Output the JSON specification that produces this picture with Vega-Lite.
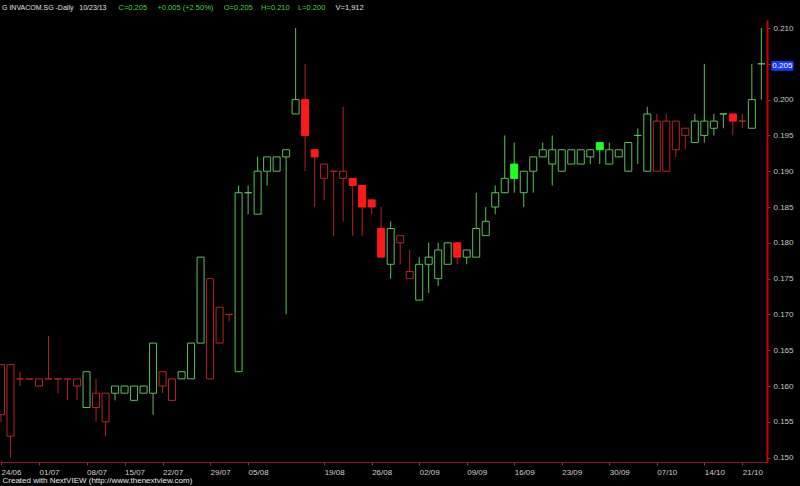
{
  "$schema": "https://vega.github.io/schema/vega-lite/v6.json",
  "width": 767,
  "height": 442,
  "autosize": {"type": "none"},
  "padding": {"left": 0, "top": 20, "right": 33, "bottom": 24},
  "background": "#000000",
  "config": {"view": {"stroke": null}, "font": "Liberation Sans"},
  "title": {"text": "G INVACOM.SG -Daily\u00a0\u00a0\u00a010/23/13", "anchor": "start", "frame": "group", "orient": "top", "offset": -8, "dx": 2, "fontSize": 7, "fontWeight": "normal", "color": "#e0e0e0"},
  "data": {"values": [
    {"date": "24/06", "o": 0.156, "h": 0.163, "l": 0.155, "c": 0.163, "dir": "dn"},
    {"date": "25/06", "o": 0.153, "h": 0.163, "l": 0.150, "c": 0.163, "dir": "dn"},
    {"date": "26/06", "o": 0.161, "h": 0.162, "l": 0.160, "c": 0.161, "dir": "dn"},
    {"date": "27/06", "o": 0.161, "h": 0.161, "l": 0.161, "c": 0.161, "dir": "dn"},
    {"date": "01/07", "o": 0.160, "h": 0.161, "l": 0.160, "c": 0.161, "dir": "dn"},
    {"date": "02/07", "o": 0.161, "h": 0.167, "l": 0.161, "c": 0.161, "dir": "dn"},
    {"date": "03/07", "o": 0.161, "h": 0.161, "l": 0.159, "c": 0.161, "dir": "dn"},
    {"date": "04/07", "o": 0.161, "h": 0.161, "l": 0.158, "c": 0.161, "dir": "dn"},
    {"date": "05/07", "o": 0.160, "h": 0.161, "l": 0.158, "c": 0.161, "dir": "dn"},
    {"date": "08/07", "o": 0.157, "h": 0.162, "l": 0.157, "c": 0.162, "dir": "up"},
    {"date": "09/07", "o": 0.157, "h": 0.161, "l": 0.155, "c": 0.159, "dir": "dn"},
    {"date": "10/07", "o": 0.155, "h": 0.159, "l": 0.153, "c": 0.159, "dir": "dn"},
    {"date": "11/07", "o": 0.159, "h": 0.160, "l": 0.158, "c": 0.160, "dir": "up"},
    {"date": "15/07", "o": 0.159, "h": 0.160, "l": 0.159, "c": 0.160, "dir": "up"},
    {"date": "16/07", "o": 0.158, "h": 0.160, "l": 0.158, "c": 0.160, "dir": "up"},
    {"date": "17/07", "o": 0.159, "h": 0.160, "l": 0.159, "c": 0.160, "dir": "up"},
    {"date": "18/07", "o": 0.159, "h": 0.166, "l": 0.156, "c": 0.166, "dir": "up"},
    {"date": "22/07", "o": 0.160, "h": 0.162, "l": 0.159, "c": 0.162, "dir": "dn"},
    {"date": "23/07", "o": 0.158, "h": 0.161, "l": 0.158, "c": 0.161, "dir": "dn"},
    {"date": "24/07", "o": 0.161, "h": 0.162, "l": 0.161, "c": 0.162, "dir": "up"},
    {"date": "25/07", "o": 0.161, "h": 0.166, "l": 0.161, "c": 0.166, "dir": "up"},
    {"date": "26/07", "o": 0.166, "h": 0.178, "l": 0.166, "c": 0.178, "dir": "up"},
    {"date": "29/07", "o": 0.161, "h": 0.175, "l": 0.161, "c": 0.175, "dir": "dn"},
    {"date": "30/07", "o": 0.166, "h": 0.171, "l": 0.166, "c": 0.171, "dir": "dn"},
    {"date": "31/07", "o": 0.170, "h": 0.170, "l": 0.169, "c": 0.170, "dir": "dn"},
    {"date": "01/08", "o": 0.162, "h": 0.188, "l": 0.162, "c": 0.187, "dir": "up"},
    {"date": "05/08", "o": 0.187, "h": 0.188, "l": 0.184, "c": 0.187, "dir": "up"},
    {"date": "06/08", "o": 0.184, "h": 0.192, "l": 0.184, "c": 0.190, "dir": "up"},
    {"date": "07/08", "o": 0.190, "h": 0.192, "l": 0.188, "c": 0.192, "dir": "up"},
    {"date": "12/08", "o": 0.190, "h": 0.192, "l": 0.190, "c": 0.192, "dir": "up"},
    {"date": "13/08", "o": 0.192, "h": 0.193, "l": 0.170, "c": 0.193, "dir": "up"},
    {"date": "14/08", "o": 0.198, "h": 0.210, "l": 0.198, "c": 0.200, "dir": "up"},
    {"date": "15/08", "o": 0.200, "h": 0.205, "l": 0.190, "c": 0.195, "dir": "dn"},
    {"date": "16/08", "o": 0.193, "h": 0.193, "l": 0.185, "c": 0.192, "dir": "dn"},
    {"date": "19/08", "o": 0.189, "h": 0.191, "l": 0.186, "c": 0.191, "dir": "dn"},
    {"date": "20/08", "o": 0.190, "h": 0.190, "l": 0.181, "c": 0.190, "dir": "dn"},
    {"date": "21/08", "o": 0.189, "h": 0.199, "l": 0.183, "c": 0.190, "dir": "dn"},
    {"date": "22/08", "o": 0.189, "h": 0.189, "l": 0.181, "c": 0.188, "dir": "dn"},
    {"date": "23/08", "o": 0.188, "h": 0.188, "l": 0.181, "c": 0.185, "dir": "dn"},
    {"date": "26/08", "o": 0.186, "h": 0.186, "l": 0.184, "c": 0.185, "dir": "dn"},
    {"date": "27/08", "o": 0.182, "h": 0.185, "l": 0.178, "c": 0.178, "dir": "dn"},
    {"date": "28/08", "o": 0.177, "h": 0.183, "l": 0.175, "c": 0.182, "dir": "up"},
    {"date": "29/08", "o": 0.180, "h": 0.181, "l": 0.177, "c": 0.181, "dir": "dn"},
    {"date": "30/08", "o": 0.175, "h": 0.179, "l": 0.175, "c": 0.176, "dir": "dn"},
    {"date": "02/09", "o": 0.172, "h": 0.178, "l": 0.172, "c": 0.177, "dir": "up"},
    {"date": "03/09", "o": 0.177, "h": 0.180, "l": 0.173, "c": 0.178, "dir": "up"},
    {"date": "04/09", "o": 0.175, "h": 0.180, "l": 0.174, "c": 0.179, "dir": "up"},
    {"date": "05/09", "o": 0.177, "h": 0.180, "l": 0.177, "c": 0.180, "dir": "up"},
    {"date": "06/09", "o": 0.180, "h": 0.180, "l": 0.177, "c": 0.178, "dir": "dn"},
    {"date": "09/09", "o": 0.178, "h": 0.179, "l": 0.177, "c": 0.179, "dir": "up"},
    {"date": "10/09", "o": 0.178, "h": 0.187, "l": 0.178, "c": 0.182, "dir": "up"},
    {"date": "11/09", "o": 0.181, "h": 0.185, "l": 0.181, "c": 0.183, "dir": "up"},
    {"date": "12/09", "o": 0.185, "h": 0.188, "l": 0.184, "c": 0.187, "dir": "up"},
    {"date": "13/09", "o": 0.187, "h": 0.195, "l": 0.187, "c": 0.189, "dir": "up"},
    {"date": "16/09", "o": 0.191, "h": 0.194, "l": 0.187, "c": 0.189, "dir": "up"},
    {"date": "17/09", "o": 0.187, "h": 0.190, "l": 0.185, "c": 0.190, "dir": "up"},
    {"date": "18/09", "o": 0.190, "h": 0.192, "l": 0.187, "c": 0.192, "dir": "up"},
    {"date": "19/09", "o": 0.192, "h": 0.194, "l": 0.192, "c": 0.193, "dir": "up"},
    {"date": "20/09", "o": 0.191, "h": 0.195, "l": 0.188, "c": 0.193, "dir": "up"},
    {"date": "23/09", "o": 0.190, "h": 0.193, "l": 0.190, "c": 0.193, "dir": "up"},
    {"date": "24/09", "o": 0.191, "h": 0.193, "l": 0.191, "c": 0.193, "dir": "up"},
    {"date": "25/09", "o": 0.191, "h": 0.193, "l": 0.191, "c": 0.193, "dir": "up"},
    {"date": "26/09", "o": 0.192, "h": 0.193, "l": 0.191, "c": 0.193, "dir": "up"},
    {"date": "27/09", "o": 0.194, "h": 0.194, "l": 0.191, "c": 0.193, "dir": "up"},
    {"date": "30/09", "o": 0.191, "h": 0.194, "l": 0.191, "c": 0.193, "dir": "up"},
    {"date": "01/10", "o": 0.192, "h": 0.193, "l": 0.192, "c": 0.193, "dir": "up"},
    {"date": "02/10", "o": 0.190, "h": 0.194, "l": 0.190, "c": 0.194, "dir": "up"},
    {"date": "03/10", "o": 0.195, "h": 0.196, "l": 0.191, "c": 0.195, "dir": "up"},
    {"date": "04/10", "o": 0.190, "h": 0.199, "l": 0.190, "c": 0.198, "dir": "up"},
    {"date": "07/10", "o": 0.190, "h": 0.198, "l": 0.190, "c": 0.197, "dir": "dn"},
    {"date": "08/10", "o": 0.190, "h": 0.198, "l": 0.190, "c": 0.197, "dir": "dn"},
    {"date": "09/10", "o": 0.193, "h": 0.197, "l": 0.192, "c": 0.197, "dir": "dn"},
    {"date": "10/10", "o": 0.195, "h": 0.196, "l": 0.193, "c": 0.196, "dir": "dn"},
    {"date": "11/10", "o": 0.194, "h": 0.198, "l": 0.194, "c": 0.197, "dir": "up"},
    {"date": "14/10", "o": 0.195, "h": 0.205, "l": 0.194, "c": 0.197, "dir": "up"},
    {"date": "16/10", "o": 0.196, "h": 0.198, "l": 0.195, "c": 0.197, "dir": "up"},
    {"date": "17/10", "o": 0.198, "h": 0.198, "l": 0.196, "c": 0.198, "dir": "up"},
    {"date": "18/10", "o": 0.198, "h": 0.198, "l": 0.195, "c": 0.197, "dir": "dn"},
    {"date": "21/10", "o": 0.197, "h": 0.198, "l": 0.196, "c": 0.197, "dir": "dn"},
    {"date": "22/10", "o": 0.196, "h": 0.205, "l": 0.196, "c": 0.200, "dir": "up"},
    {"date": "23/10", "o": 0.205, "h": 0.210, "l": 0.200, "c": 0.205, "dir": "up"}
  ]},
  "transform": [
    {"calculate": "(datum.c < datum.o ? 'f' : 'h') + datum.dir", "as": "kind"}
  ],
  "resolve": {"axis": {"x": "independent", "y": "independent"}},
  "layer": [
    {
      "mark": {"type": "rule", "strokeWidth": 1},
      "encoding": {
        "x": {"field": "date", "type": "ordinal", "sort": null,
          "scale": {"type": "point", "padding": 0.35, "align": 0.15},
          "axis": {"orient": "bottom",
            "values": ["24/06","01/07","08/07","15/07","22/07","29/07","05/08","19/08","26/08","02/09","09/09","16/09","23/09","30/09","07/10","14/10","21/10"],
            "labelAlign": "left", "labelAngle": 0, "labelColor": "#d0d0d0", "labelFontSize": 8, "labelPadding": 3, "labelOverlap": false,
            "tickColor": "#c02030", "tickSize": 3, "domainColor": "#8a1525", "domainWidth": 1, "grid": false,
            "title": "Created with NextVIEW (http://www.thenextview.com)", "titleColor": "#e8e8e8", "titleFontSize": 8, "titleFontWeight": "normal",
            "titleAlign": "left", "titleAnchor": "start", "titleX": 2, "titleY": 22, "titleBaseline": "bottom"}},
        "y": {"field": "l", "type": "quantitative",
          "scale": {"domain": [0.14939, 0.21112], "nice": false, "zero": false},
          "axis": {"orient": "right",
            "values": [0.150, 0.155, 0.160, 0.165, 0.170, 0.175, 0.180, 0.185, 0.190, 0.195, 0.200, 0.205, 0.210],
            "format": ".3f", "labelColor": "#c8c8c8", "labelFontSize": 8, "labelPadding": 3, "labelFlush": false,
            "tickColor": "#cc1111", "tickSize": 3, "domainColor": "#cc0000", "domainWidth": 2, "grid": false,
            "title": "C=0.205\u00a0\u00a0\u00a0\u00a0\u00a0+0.005 (+2.50%)\u00a0\u00a0\u00a0\u00a0\u00a0O=0.205\u00a0\u00a0\u00a0\u00a0H=0.210\u00a0\u00a0\u00a0\u00a0L=0.200",
            "titleColor": "#4ccf4c", "titleFontSize": 7.5, "titleFontWeight": "normal", "titleAngle": 0,
            "titleAlign": "left", "titleBaseline": "bottom", "titleX": -649, "titleY": -9}},
        "y2": {"field": "h"},
        "color": {"field": "dir", "type": "nominal",
          "scale": {"domain": ["up", "dn"], "range": ["#5cbf5c", "#b02424"]}, "legend": null}
      }
    },
    {
      "mark": {"type": "bar", "width": 7, "strokeWidth": 1},
      "encoding": {
        "x": {"field": "date", "type": "ordinal", "sort": null,
          "axis": {"orient": "top", "labels": false, "ticks": false, "domain": false, "grid": false,
            "title": "V=1,912", "titleColor": "#e0e0e0", "titleFontSize": 7.5, "titleFontWeight": "normal",
            "titleAlign": "left", "titleX": 335, "titleY": -9, "titleBaseline": "bottom"}},
        "y": {"field": "o", "type": "quantitative", "axis": null},
        "y2": {"field": "c"},
        "fill": {"field": "kind", "type": "nominal",
          "scale": {"domain": ["hup", "hdn", "fup", "fdn"], "range": ["#000000", "#000000", "#22ff22", "#ff1a1a"]}, "legend": null},
        "stroke": {"field": "kind", "type": "nominal",
          "scale": {"domain": ["hup", "hdn", "fup", "fdn"], "range": ["#5cbf5c", "#b52525", "#22ff22", "#ff1a1a"]}, "legend": null}
      }
    },
    {
      "transform": [{"filter": "datum.date == '23/10'"}],
      "mark": {"type": "point", "shape": "M-1,-0.45L1,-0.45L1,0.45L-1,0.45Z", "size": 484, "filled": true, "fill": "#1438ff", "stroke": null, "opacity": 1, "xOffset": 21, "yOffset": 2},
      "encoding": {
        "x": {"field": "date", "type": "ordinal", "sort": null, "axis": null},
        "y": {"field": "c", "type": "quantitative", "axis": null}
      }
    },
    {
      "transform": [{"filter": "datum.date == '23/10'"}],
      "mark": {"type": "text", "color": "#ffffff", "fontSize": 8, "align": "center", "baseline": "middle", "xOffset": 21, "yOffset": 2},
      "encoding": {
        "x": {"field": "date", "type": "ordinal", "sort": null, "axis": null},
        "y": {"field": "c", "type": "quantitative", "axis": null},
        "text": {"field": "c", "type": "quantitative", "format": ".3f"}
      }
    }
  ]
}
